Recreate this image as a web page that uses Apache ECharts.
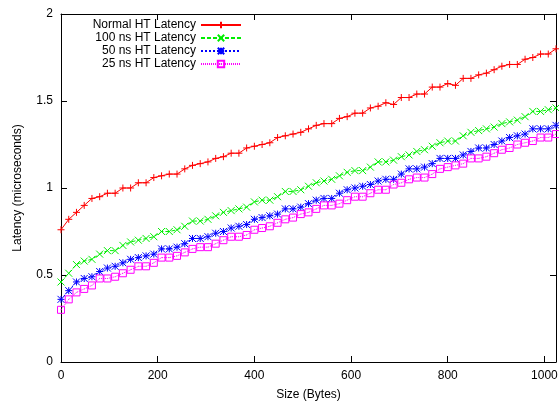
<!DOCTYPE html>
<html>
<head>
<meta charset="utf-8">
<script src="https://cdn.jsdelivr.net/npm/echarts@6/dist/echarts.min.js"></script>
<style>
  html, body { margin: 0; padding: 0; background: #ffffff; }
  #chart { width: 559px; height: 401px; }
</style>
</head>
<body>
<div id="chart"></div>
<script>
// Message sizes in bytes (every 16 bytes from 0 to 1024)
const sizes = [
  0, 16, 32, 48, 64, 80, 96, 112, 128, 144, 160, 176, 192, 208, 224, 240,
  256, 272, 288, 304, 320, 336, 352, 368, 384, 400, 416, 432, 448, 464, 480, 496,
  512, 528, 544, 560, 576, 592, 608, 624, 640, 656, 672, 688, 704, 720, 736, 752,
  768, 784, 800, 816, 832, 848, 864, 880, 896, 912, 928, 944, 960, 976, 992, 1008, 1024
];

// Latency in microseconds
const normalLatency = [
  0.76, 0.82, 0.86, 0.90, 0.94, 0.95, 0.97, 0.97, 1.00, 1.00, 1.03, 1.03, 1.06, 1.07, 1.08, 1.08,
  1.11, 1.13, 1.14, 1.15, 1.17, 1.18, 1.20, 1.20, 1.23, 1.24, 1.25, 1.26, 1.29, 1.30, 1.31, 1.32,
  1.34, 1.36, 1.37, 1.37, 1.40, 1.41, 1.43, 1.43, 1.46, 1.47, 1.49, 1.48, 1.52, 1.52, 1.54, 1.54,
  1.58, 1.58, 1.60, 1.59, 1.63, 1.63, 1.65, 1.66, 1.68, 1.70, 1.71, 1.71, 1.74, 1.75, 1.77, 1.77, 1.80
];
const ht100Latency = [
  0.46, 0.51, 0.56, 0.58, 0.59, 0.62, 0.64, 0.64, 0.67, 0.69, 0.70, 0.71, 0.72, 0.75, 0.75, 0.76,
  0.78, 0.81, 0.81, 0.82, 0.84, 0.86, 0.87, 0.88, 0.89, 0.92, 0.93, 0.93, 0.95, 0.98, 0.98, 0.99,
  1.01, 1.03, 1.04, 1.05, 1.07, 1.09, 1.10, 1.10, 1.12, 1.15, 1.15, 1.16, 1.18, 1.19, 1.21, 1.22,
  1.24, 1.26, 1.27, 1.27, 1.30, 1.32, 1.33, 1.34, 1.35, 1.37, 1.38, 1.39, 1.41, 1.44, 1.44, 1.45, 1.46
];
const ht50Latency = [
  0.36, 0.41, 0.46, 0.48, 0.49, 0.52, 0.54, 0.55, 0.57, 0.59, 0.60, 0.61, 0.62, 0.65, 0.65, 0.66,
  0.68, 0.71, 0.71, 0.72, 0.74, 0.75, 0.77, 0.78, 0.79, 0.82, 0.83, 0.84, 0.85, 0.88, 0.88, 0.89,
  0.91, 0.93, 0.94, 0.94, 0.97, 0.99, 1.00, 1.01, 1.02, 1.04, 1.05, 1.05, 1.08, 1.11, 1.11, 1.12,
  1.14, 1.17, 1.17, 1.17, 1.19, 1.21, 1.23, 1.23, 1.25, 1.27, 1.29, 1.30, 1.31, 1.34, 1.34, 1.34, 1.36
];
const ht25Latency = [
  0.30, 0.36, 0.40, 0.42, 0.44, 0.48, 0.48, 0.49, 0.51, 0.53, 0.55, 0.55, 0.57, 0.60, 0.60, 0.61,
  0.63, 0.65, 0.66, 0.66, 0.68, 0.70, 0.72, 0.72, 0.73, 0.76, 0.77, 0.78, 0.80, 0.82, 0.83, 0.85,
  0.86, 0.88, 0.90, 0.90, 0.91, 0.93, 0.95, 0.95, 0.97, 0.99, 0.99, 1.02, 1.03, 1.05, 1.06, 1.06,
  1.08, 1.11, 1.12, 1.13, 1.14, 1.17, 1.17, 1.18, 1.20, 1.22, 1.23, 1.25, 1.26, 1.27, 1.29, 1.29, 1.31
];

const seriesNames = ['Normal HT Latency', '100 ns HT Latency', '50 ns HT Latency', '25 ns HT Latency'];

// Point glyphs: plus, cross, asterisk, open square with a centre dot
const plusSymbol = 'path://M0,5L10,5M5,0L5,10';
const crossSymbol = 'path://M0,0L10,10M10,0L0,10';
const starSymbol = 'path://M0,5L10,5M5,0L5,10M0,0L10,10M10,0L0,10';
const squareSymbol = 'path://M0,0L10,0L10,10L0,10ZM4.6,5L5.4,5';

const FONT = 'Liberation Sans, Arial, Helvetica, sans-serif';

function pairs(values) {
  return sizes.map((s, i) => [s, values[i]]);
}

function makeSeries(name, values, color, symbol, dash) {
  return {
    name: name,
    type: 'line',
    data: pairs(values),
    symbol: symbol,
    symbolSize: 7,
    showAllSymbol: true,
    color: color,
    lineStyle: { color: color, width: 1, type: dash },
    itemStyle: { color: 'rgba(0,0,0,0)', borderColor: color, borderWidth: 1 },
    emphasis: { disabled: true },
    z: 3
  };
}

const chart = echarts.init(document.getElementById('chart'), null, { renderer: 'canvas' });

const tickStyle = { inside: true, length: 6, lineStyle: { color: '#000', width: 1 } };
const lineStyle = { show: true, onZero: false, lineStyle: { color: '#000', width: 1 } };

chart.setOption({
  animation: false,
  backgroundColor: '#ffffff',
  textStyle: { fontFamily: FONT },
  grid: {
    left: 61, right: 3, top: 14, bottom: 39,
    containLabel: false,
    outerBoundsMode: 'none'
  },
  legend: {
    data: seriesNames,
    orient: 'vertical',
    align: 'right',
    right: 317,
    top: 19,
    itemWidth: 40,
    itemHeight: 8,
    itemGap: 1,
    padding: 0,
    textStyle: { fontFamily: FONT, fontSize: 12, color: '#000' }
  },
  xAxis: [
    {
      type: 'value',
      min: 0,
      max: 1024,
      interval: 200,
      name: 'Size (Bytes)',
      nameLocation: 'middle',
      nameGap: 27,
      nameTextStyle: { fontFamily: FONT, fontSize: 12, color: '#000' },
      axisLine: lineStyle,
      axisTick: tickStyle,
      axisLabel: {
        showMaxLabel: false,
        margin: 8,
        fontFamily: FONT,
        fontSize: 12,
        color: '#000',
        formatter: v => (v % 200 === 0 ? String(v) : '')
      },
      splitLine: { show: false }
    },
    {
      type: 'value',
      position: 'top',
      min: 0,
      max: 1024,
      interval: 200,
      axisLine: lineStyle,
      axisTick: tickStyle,
      axisLabel: { show: false },
      splitLine: { show: false }
    }
  ],
  yAxis: [
    {
      type: 'value',
      min: 0,
      max: 2,
      interval: 0.5,
      name: 'Latency (microseconds)',
      nameLocation: 'middle',
      nameGap: 37,
      nameRotate: 90,
      nameTextStyle: { fontFamily: FONT, fontSize: 12, color: '#000' },
      axisLine: lineStyle,
      axisTick: tickStyle,
      axisLabel: { margin: 8, fontFamily: FONT, fontSize: 12, color: '#000' },
      splitLine: { show: false }
    },
    {
      type: 'value',
      position: 'right',
      min: 0,
      max: 2,
      interval: 0.5,
      axisLine: lineStyle,
      axisTick: tickStyle,
      axisLabel: { show: false },
      splitLine: { show: false }
    }
  ],
  series: [
    makeSeries(seriesNames[0], normalLatency, '#ff0000', plusSymbol, 'solid'),
    makeSeries(seriesNames[1], ht100Latency, '#00ee00', crossSymbol, [4, 2]),
    makeSeries(seriesNames[2], ht50Latency, '#0000ff', starSymbol, [2, 2]),
    makeSeries(seriesNames[3], ht25Latency, '#ff00ff', squareSymbol, [1, 1])
  ]
});
</script>
</body>
</html>
